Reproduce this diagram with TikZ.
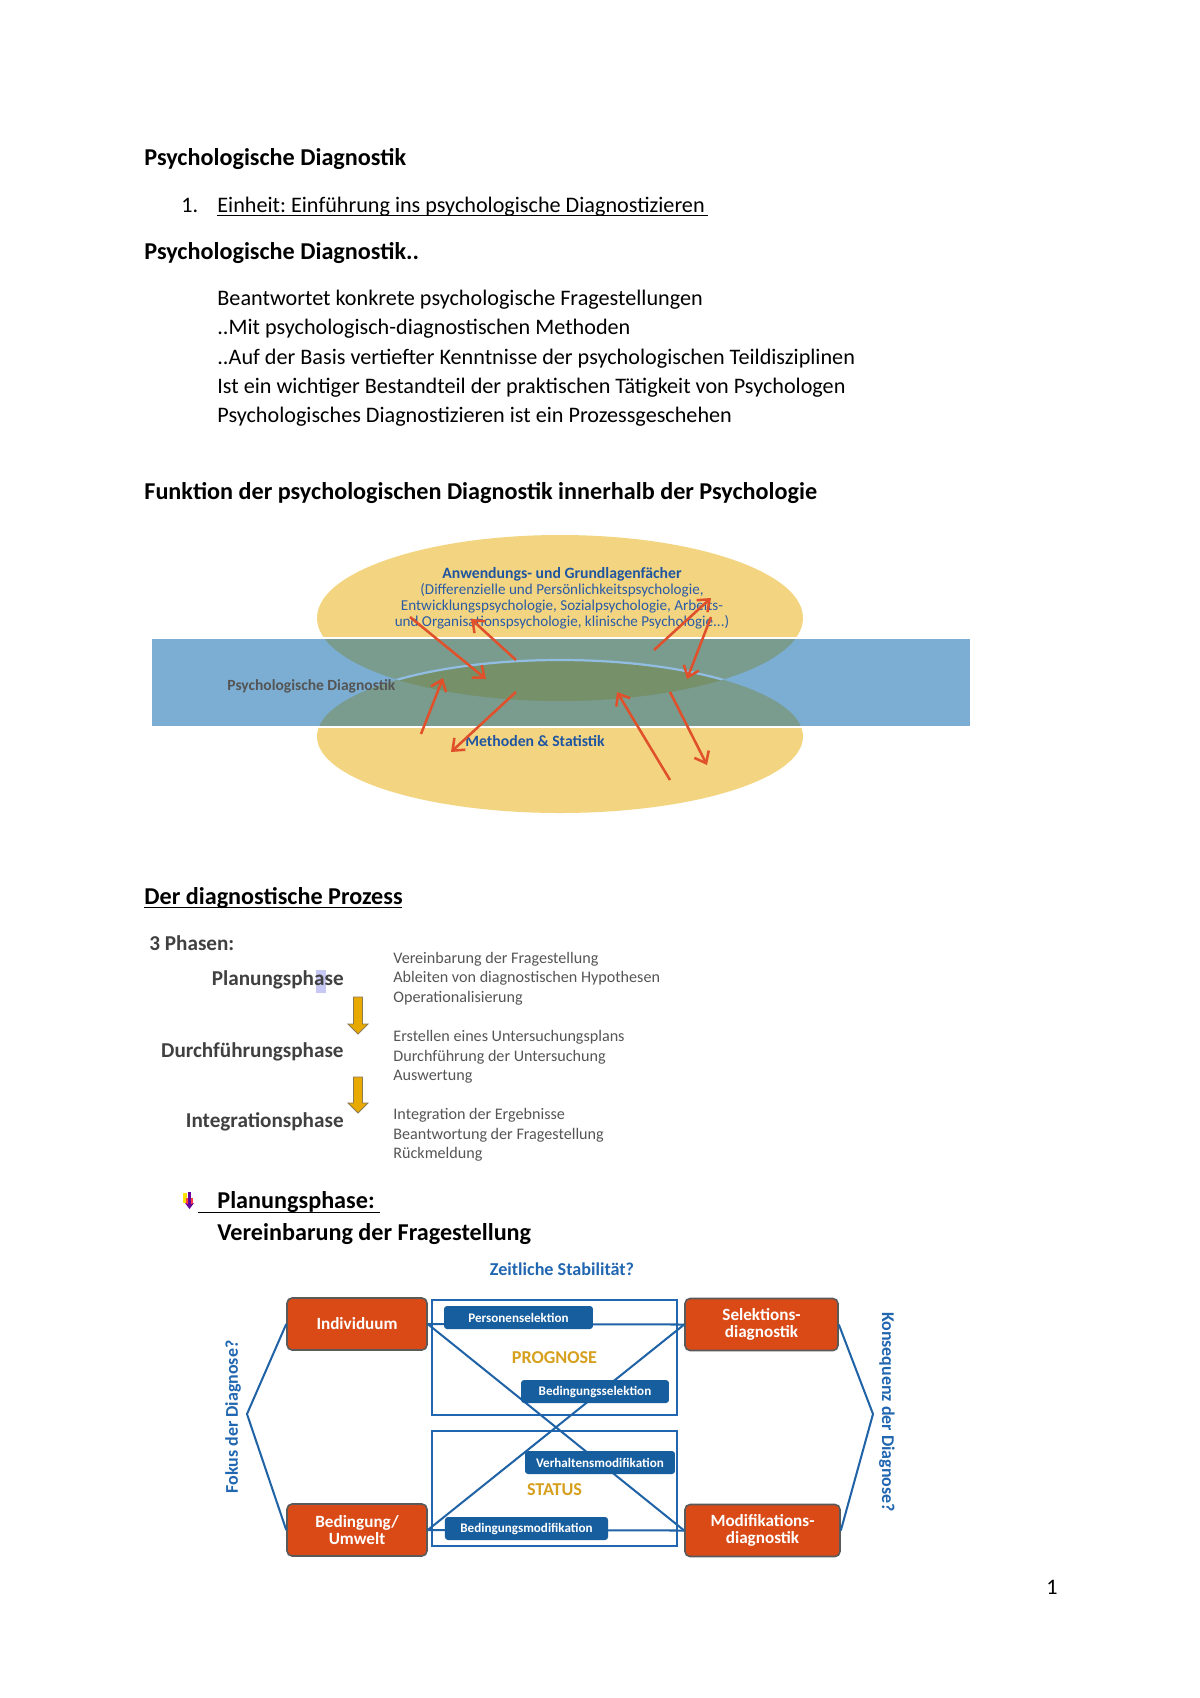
\documentclass[tikz,border=0pt]{standalone}
\usepackage{fontspec}
\setmainfont{Carlito}
\usetikzlibrary{arrows.meta}
\definecolor{gold}{HTML}{F3D581}
\definecolor{bandblue}{HTML}{7BAED2}
\definecolor{mixgreen}{HTML}{7A9C8F}
\definecolor{lensgreen}{HTML}{76906A}
\definecolor{arcblue}{HTML}{92BDE2}
\definecolor{arrowred}{HTML}{E0502A}
\definecolor{elltext}{HTML}{2A5BA5}
\definecolor{elltitle}{HTML}{1F55A0}
\definecolor{phasegray}{HTML}{404040}
\definecolor{phasetext}{HTML}{555555}
\definecolor{arrowgold}{HTML}{E8A900}
\definecolor{arrowedge}{HTML}{8C7A50}
\definecolor{boxorange}{HTML}{DA4A17}
\definecolor{boxborder}{HTML}{5A5A5A}
\definecolor{labelblue}{HTML}{175E9F}
\definecolor{lineblue}{HTML}{1F63A6}
\definecolor{titleblue}{HTML}{2166B0}
\definecolor{proggold}{HTML}{D6A01E}
\definecolor{selpurple}{HTML}{C8C8F4}
\frenchspacing
\begin{document}
\begin{tikzpicture}[x=0.49606pt,y=-0.49606pt,
  t11/.style={anchor=base west, inner sep=0pt, font=\fontsize{11}{13}\selectfont},
  h12/.style={anchor=base west, inner sep=0pt, font=\bfseries\fontsize{12}{14}\selectfont},
  elltxt/.style={anchor=base, inner sep=0pt, text=elltext, font=\fontsize{7.5}{8}\selectfont},
  redarr/.style={draw=arrowred, line width=1.25pt, -{Straight Barb[length=5pt,width=8pt]}},
  phase/.style={anchor=base east, inner sep=0pt, text=phasegray, font=\bfseries\fontsize{10.5}{12}\selectfont},
  ptxt/.style={anchor=base west, inner sep=0pt, text=phasetext, font=\fontsize{8}{10}\selectfont},
  goldarrow/.style={fill=arrowgold, draw=arrowedge, line width=0.4pt, line join=miter},
  obox/.style={draw=boxborder, line width=0.8pt, fill=boxorange, rounded corners=2.5pt, text=white,
     font=\bfseries\fontsize{8.5}{8.6}\selectfont, align=center, inner sep=0pt, minimum height=25.8pt},
  lbox/.style={fill=labelblue, rounded corners=1.5pt, text=white,
     font=\bfseries\fontsize{6.5}{7}\selectfont, inner sep=0pt, minimum height=11.4pt},
  bline/.style={draw=lineblue, line width=1pt},
  frame/.style={draw=titleblue, line width=0.6pt},
  sidetxt/.style={inner sep=0pt, text=titleblue, font=\bfseries\fontsize{8.9}{10}\selectfont},
  progtxt/.style={anchor=base, inner sep=0pt, text=proggold, font=\bfseries\fontsize{9}{10}\selectfont}
]
\useasboundingbox (0,0) rectangle (1200,1698);
\fill[white] (0,0) rectangle (1200,1698);

% ---------- header text ----------
\node[h12] (title1) at (144,165) {Psychologische Diagnostik};
\node[t11] (num1) at (181,212) {1.};
\node[t11] (unit1) at (217,212) {Einheit: Einführung ins psychologische Diagnostizieren};
\draw[line width=0.45pt] (217,215.5) -- (708,215.5);
\node[h12] (title2) at (144,259) {Psychologische Diagnostik..};
\node[t11] (b1) at (217,305.5) {Beantwortet konkrete psychologische Fragestellungen};
\node[t11] (b2) at (217,334.5) {..Mit psychologisch-diagnostischen Methoden};
\node[t11] (b3) at (217,364) {..Auf der Basis vertiefter Kenntnisse der psychologischen Teildisziplinen};
\node[t11] (b4) at (217,393) {Ist ein wichtiger Bestandteil der praktischen Tätigkeit von Psychologen};
\node[t11] (b5) at (217,422.5) {Psychologisches Diagnostizieren ist ein Prozessgeschehen};
\node[h12] (title3) at (144,499) {Funktion der psychologischen Diagnostik innerhalb der Psychologie};

% ---------- ellipse diagram ----------
\fill[gold] (560,618) ellipse [x radius=243, y radius=83];
\fill[gold] (560,736.5) ellipse [x radius=243, y radius=76.5];
\fill[bandblue] (150.5,638) rectangle (971.5,727);
\begin{scope}
  \clip (150.5,638) rectangle (971.5,727);
  \fill[mixgreen] (560,618) ellipse [x radius=243, y radius=83];
  \fill[mixgreen] (560,736.5) ellipse [x radius=243, y radius=76.5];
  \begin{scope}
    \clip (560,618) ellipse [x radius=243, y radius=83];
    \fill[lensgreen] (560,736.5) ellipse [x radius=243, y radius=76.5];
    \draw[arcblue, line width=1.1pt] (560,736.5) ellipse [x radius=243, y radius=76.5];
  \end{scope}
\end{scope}
\draw[white, line width=1.2pt] (150.5,638) rectangle (971.5,727);

\node[elltxt, font=\bfseries\fontsize{7.8}{8}\selectfont, text=elltitle] (e1) at (562,578) {Anwendungs- und Grundlagenfächer};
\node[elltxt] (e2) at (562,594) {(Differenzielle und Persönlichkeitspsychologie,};
\node[elltxt] (e3) at (562,610) {Entwicklungspsychologie, Sozialpsychologie, Arbeits-};
\node[elltxt] (e4) at (562,626) {und Organisationspsychologie, klinische Psychologie...)};
\node[anchor=base west, inner sep=0pt, text=phasetext, font=\bfseries\fontsize{7.7}{9}\selectfont] (pd) at (227,690) {Psychologische Diagnostik};
\node[anchor=base west, inner sep=0pt, text=elltitle, font=\bfseries\fontsize{7.8}{9}\selectfont] (ms) at (465,746) {Methoden \& Statistik};

\coordinate (a1s) at (410,617); \coordinate (a1e) at (486,679);
\coordinate (a2s) at (516,660); \coordinate (a2e) at (471,619);
\coordinate (a3s) at (654,650); \coordinate (a3e) at (711,598);
\coordinate (a4s) at (711,617); \coordinate (a4e) at (687,679);
\coordinate (a5s) at (421,734); \coordinate (a5e) at (443,678);
\coordinate (a6s) at (516,692); \coordinate (a6e) at (451,752);
\coordinate (a7s) at (670,780); \coordinate (a7e) at (617,692);
\coordinate (a8s) at (670,692); \coordinate (a8e) at (707,765);
\foreach \i in {1,...,8} {\draw[redarr] (a\i s) -- (a\i e);}

% ---------- diagnostic process ----------
\node[h12] (title4) at (144,904) {Der diagnostische Prozess};
\draw[line width=0.5pt] (144,907.5) -- (402,907.5);

\node[anchor=base west, inner sep=0pt, text=phasegray, font=\bfseries\fontsize{10.5}{12}\selectfont] (ph) at (149,950) {3 Phasen:};
\fill[selpurple] (316,970) rectangle (325.5,993);
\node[phase] (p1) at (344,985) {Planungsphase};
\node[phase] (p2) at (344,1057) {Durchführungsphase};
\node[phase] (p3) at (344,1127) {Integrationsphase};

\path[goldarrow] (353.5,997) -- (362.5,997) -- (362.5,1024) -- (368,1024) -- (358,1034) -- (348,1024) -- (353.5,1024) -- cycle;
\path[goldarrow] (353.5,1077) -- (362.5,1077) -- (362.5,1103) -- (368,1103) -- (358,1113) -- (348,1103) -- (353.5,1103) -- cycle;

\node[ptxt] (r1) at (393,963) {Vereinbarung der Fragestellung};
\node[ptxt] (r2) at (393,982) {Ableiten von diagnostischen Hypothesen};
\node[ptxt] (r3) at (393,1002) {Operationalisierung};
\node[ptxt] (r4) at (393,1041) {Erstellen eines Untersuchungsplans};
\node[ptxt] (r5) at (393,1061) {Durchführung der Untersuchung};
\node[ptxt] (r6) at (393,1080) {Auswertung};
\node[ptxt] (r7) at (393,1119) {Integration der Ergebnisse};
\node[ptxt] (r8) at (393,1139) {Beantwortung der Fragestellung};
\node[ptxt] (r9) at (393,1158) {Rückmeldung};

% ---------- Planungsphase heading ----------
\fill[yellow!85!orange] (183,1193) rectangle (187,1203);
\fill[red!75] (186,1198) rectangle (193,1204);
\draw[violet!80!blue, line width=1.2pt, -{Stealth[length=3pt,width=4.5pt]}] (189.5,1192) -- (189.5,1209);
\node[h12] (plan) at (217,1208) {Planungsphase:};
\draw[line width=0.5pt] (197.5,1212) -- (380,1212);
\node[h12] (vf) at (217,1240) {Vereinbarung der Fragestellung};

% ---------- bottom diagram ----------
\node[anchor=base, inner sep=0pt, text=titleblue, font=\bfseries\fontsize{9}{10}\selectfont] (zs) at (562,1275) {Zeitliche Stabilität?};

\draw[frame] (432,1300) rectangle (677,1415);
\draw[frame] (432,1431) rectangle (677,1546);

\node[obox, minimum width=69.4pt] (ind) at (357,1324) {Individuum};
\node[obox, minimum width=75.9pt] (sel) at (761.5,1324.5) {Selektions-\\diagnostik};
\node[obox, minimum width=69.4pt] (bed) at (357,1530) {Bedingung/\\Umwelt};
\node[obox, minimum width=76.9pt] (mod) at (762.5,1530.5) {Modifikations-\\diagnostik};

\coordinate (lv) at (247,1414);
\coordinate (rv) at (873,1414);
\draw[bline] (ind.west) -- (lv) -- (bed.west);
\draw[bline] (sel.east) -- (rv) -- (mod.east);
\draw[bline] (ind.east) -- (sel.west);
\draw[bline] (bed.east) -- (mod.west);
\draw[bline] (ind.east) -- (mod.west);
\draw[bline] (bed.east) -- (sel.west);

\node[lbox, minimum width=73.9pt] (ps) at (518.5,1317.5) {Personenselektion};
\node[lbox, minimum width=73.4pt] (bs) at (595,1391.5) {Bedingungsselektion};
\node[lbox, minimum width=74.4pt] (vm) at (600,1462.5) {Verhaltensmodifikation};
\node[lbox, minimum width=80.9pt] (bm) at (526.5,1528.5) {Bedingungsmodifikation};

\node[progtxt] (prog) at (554.5,1363) {PROGNOSE};
\node[progtxt] (stat) at (554.5,1495) {STATUS};

\node[sidetxt, rotate=90] (fok) at (233,1417) {Fokus der Diagnose?};
\node[sidetxt, rotate=-90] (kon) at (887,1412) {Konsequenz der Diagnose?};

% page number
\node[anchor=base, inner sep=0pt, font=\fontsize{11}{13}\selectfont] (pg) at (1052,1594) {1};
\end{tikzpicture}
\end{document}
